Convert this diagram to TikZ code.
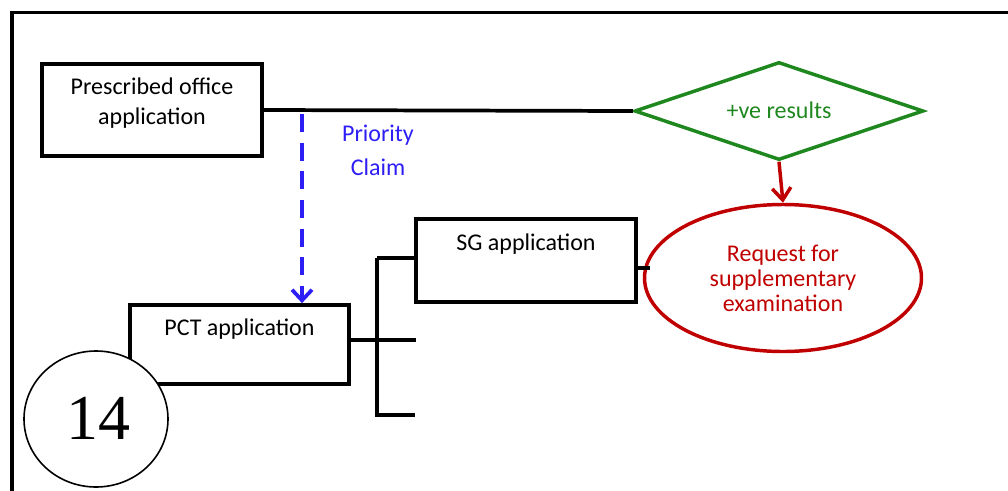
\documentclass[tikz,border=0pt]{standalone}
\usepackage{fontspec}
\setmainfont{Carlito}
\newfontfamily\numfont{Liberation Serif}
\usetikzlibrary{shapes.geometric,arrows.meta}
\definecolor{dgreen}{RGB}{30,135,30}
\definecolor{dred}{RGB}{192,0,0}
\definecolor{pblue}{RGB}{45,30,245}
\begin{document}
\begin{tikzpicture}[x=0.75pt,y=-0.75pt,
  box/.style={draw=black,line width=2.8pt,fill=white,minimum width=220*0.75pt,inner sep=0pt},
  conn/.style={draw=black,line width=2.8pt},
  lbl/.style={font=\fontsize{18}{23}\selectfont,align=center,inner sep=0pt}]
\useasboundingbox (0,0) rectangle (1008,490);
\draw[line width=2.8pt] (12,492) -- (12,12.5) -- (1012,12.5);
% nodes
\node[box,minimum height=92*0.75pt] (po) at (152,110) {};
\node[lbl] at (152,103) {Prescribed office\\application};
\node[draw=dgreen,line width=2.6pt,diamond,aspect=2.95,minimum width=289*0.75pt,minimum height=98*0.75pt,inner sep=0pt] (dia) at (779,111) {};
\node[lbl,text=dgreen] at (779,110) {+ve results};
\node[draw=dred,line width=2.6pt,ellipse,minimum width=277*0.75pt,minimum height=147*0.75pt,inner sep=0pt] (ell) at (783,278) {};
\node[lbl,text=dred,font=\fontsize{18}{18.75}\selectfont] at (783,278) {Request for\\supplementary\\examination};
\node[box,minimum height=83*0.75pt,minimum width=220*0.75pt] (sg) at (526,260.5) {};
\node[lbl] at (526,244) {SG application};
\node[box,minimum height=79*0.75pt,minimum width=219*0.75pt] (pct) at (239.5,344.5) {};
\node[lbl] at (239.5,329) {PCT application};
\coordinate (jt) at (377,258);
\coordinate (jb) at (377,415);
\coordinate (bend) at (415,415);
\coordinate (mid) at (416,340);
% connectors
\draw[conn] (po.east |- 0,110) -- (dia.west);
\draw[conn] (jt) -- (sg.west |- jt);
\draw[conn] (jt) -- (jb) -- (bend);
\draw[conn] (pct.east |- mid) -- (mid);
\draw[conn] (sg.east |- 0,268) -- (650,268);
\draw[draw=dred,line width=2.6pt,-{Straight Barb[length=9pt,width=14pt,line width=2.6pt]}] (dia.south) -- (ell.north);
\draw[draw=pblue,line width=2.8pt,dash pattern=on 13.5pt off 8pt,-{Straight Barb[length=8pt,width=15pt,line width=2.8pt]}] (302,114) -- (pct.north -| 302,0);
\node[lbl,text=pblue,font=\fontsize{18}{25.5}\selectfont] (pc) at (378,150) {Priority\\Claim};
% circle 14
\node[draw=black,line width=1.2pt,fill=white,ellipse,minimum width=144*0.75pt,minimum height=136*0.75pt,inner sep=0pt] (c14) at (96,419) {};
\node[font=\numfont\fontsize{48}{56}\selectfont,inner sep=0pt] at (98,418) {14};
\end{tikzpicture}
\end{document}
